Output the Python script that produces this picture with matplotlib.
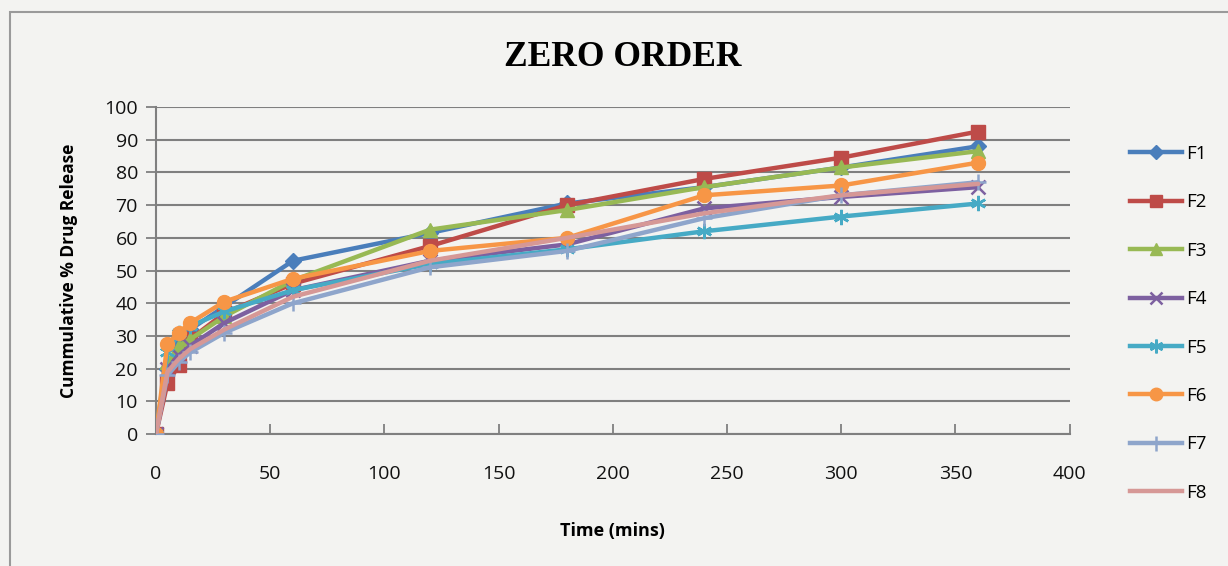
import matplotlib
matplotlib.use("Agg")
import matplotlib.pyplot as plt
from matplotlib.lines import Line2D

# Sampling times (minutes)
time_min = [0, 5, 10, 15, 30, 60, 120, 180, 240, 300, 360]

# Cumulative % drug release for each formulation
f1 = [0, 20, 27, 32, 39, 53, 61.5, 70.5, 75.5, 81.5, 88]
f2 = [0, 15.5, 21, 29, 37, 46, 57.5, 70, 78, 84.5, 92.5]
f3 = [0, 22, 27, 29, 36, 47, 62.5, 68.5, 75.5, 81.5, 86.5]
f4 = [0, 20, 24, 27, 34, 44, 53, 58, 69, 72.5, 75.5]
f5 = [0, 25, 31, 33, 37.5, 44, 52, 56.5, 62, 66.5, 70.5]
f6 = [0, 27.5, 31, 34, 40.5, 47.5, 56, 60, 73, 76, 83]
f7 = [0, 18, 22, 25, 31, 40, 51, 56, 66, 73, 77]
f8 = [0, 19, 23, 26, 32, 42, 53, 60, 67.5, 73, 76.5]

series_names = ["F1", "F2", "F3", "F4", "F5", "F6", "F7", "F8"]
series_values = [f1, f2, f3, f4, f5, f6, f7, f8]

colors = ["#4A7EBB", "#BE4B48", "#98B954", "#7D60A0",
          "#46AAC5", "#F79646", "#8EA5CB", "#D69896"]
markers = ["D", "s", "^", "x", (6, 2, 0), "o", "+", None]
msizes = [8, 10, 10, 10, 11, 10, 12, 0]

bg = "#F3F3F1"
grid_c = "#7F7F7F"

fig = plt.figure(figsize=(12.28, 5.66), dpi=100, facecolor=bg)
ax = fig.add_axes([0.127, 0.233, 0.744, 0.578], facecolor=bg)

for name, vals, c, m, ms in zip(series_names, series_values, colors, markers, msizes):
    ax.plot(time_min, vals, color=c, lw=3.2, marker=m, markersize=ms,
            markeredgewidth=1.8 if m in ("x", "+", (6, 2, 0)) else 1.0,
            markeredgecolor=c, markerfacecolor=c, label=name, zorder=3,
            solid_capstyle="round")

ax.set_xlim(0, 400)
ax.set_ylim(0, 100)
ax.set_xticks(range(0, 401, 50))
ax.set_yticks(range(0, 101, 10))

ax.yaxis.grid(True, color=grid_c, lw=1.5, zorder=1)
ax.set_axisbelow(True)
for s in ["top", "right"]:
    ax.spines[s].set_visible(False)
for s in ["left", "bottom"]:
    ax.spines[s].set_color(grid_c)
    ax.spines[s].set_linewidth(1.5)

ax.tick_params(axis="x", direction="in", length=7, width=1.3, color=grid_c, pad=22)
ax.tick_params(axis="y", direction="out", length=7, width=1.3, color=grid_c, pad=6)
for lab in ax.get_xticklabels() + ax.get_yticklabels():
    lab.set_fontfamily("Open Sans")
    lab.set_fontsize(14)
    lab.set_color("#111111")

ax.set_xlabel("Time (mins)", fontfamily="Open Sans", fontweight="bold",
              fontsize=13, labelpad=28)
ax.set_ylabel("Cummulative % Drug Release", fontfamily="Open Sans",
              fontweight="bold", fontsize=12.5, labelpad=19)

fig.text(0.507, 0.898, "ZERO ORDER", ha="center", va="center",
         fontfamily="Liberation Serif", fontweight="bold", fontsize=25.5)

# Legend at right
handles = [Line2D([0], [0], color=c, lw=3.2, marker=m, markersize=ms * 0.9,
                  markeredgecolor=c, markerfacecolor=c,
                  markeredgewidth=1.8 if m in ("x", "+", (6, 2, 0)) else 1.0)
           for c, m, ms in zip(colors, markers, msizes)]
fig.legend(handles, series_names, loc="upper left",
           bbox_to_anchor=(0.914, 0.757), frameon=False,
           prop=dict(family="Open Sans", size=13.5), labelspacing=1.62,
           handlelength=2.8, handletextpad=0.2, borderaxespad=0)

# Outer chart frame
frame = plt.Rectangle((0.008, -0.1), 1.2, 1.078, transform=fig.transFigure,
                      fill=False, edgecolor="#9A9A9A", lw=1.5)
fig.add_artist(frame)

fig.savefig("out.png", dpi=100, facecolor=bg)
